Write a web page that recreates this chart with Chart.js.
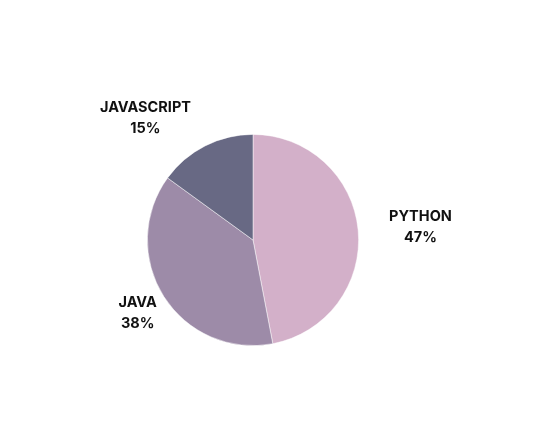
<!DOCTYPE html>
<html>
<head>
<meta charset="utf-8">
<script src="https://cdn.jsdelivr.net/npm/chart.js@4/dist/chart.umd.min.js"></script>
<style>
  html, body { margin: 0; padding: 0; background: #ffffff; }
  #wrap { width: 552px; height: 447px; position: relative; }
</style>
</head>
<body>
<div id="wrap"><canvas id="c" width="552" height="447"></canvas></div>
<script>
const categories = ['PYTHON', 'JAVA', 'JAVASCRIPT'];
const shares = [47, 38, 15];
const sliceColors = ['#D3B0C9', '#9D8BA8', '#686984'];
const labelAligns = ['left', 'center', 'right'];

const outsideLabels = {
  id: 'outsideLabels',
  afterDatasetsDraw(chart, args, opts) {
    const ctx = chart.ctx;
    const meta = chart.getDatasetMeta(0);
    ctx.save();
    ctx.fillStyle = '#111111';
    ctx.font = 'bold 14.5px Inter, "Open Sans", sans-serif';
    ctx.textBaseline = 'middle';
    ctx.textAlign = 'center';
    meta.data.forEach((arc, i) => {
      const p = arc.getProps(['x', 'y', 'startAngle', 'endAngle', 'outerRadius'], true);
      const mid = (p.startAngle + p.endAngle) / 2;
      const d = p.outerRadius + opts.gap;
      const ax = p.x + Math.cos(mid) * d;
      const ay = p.y + Math.sin(mid) * d;
      const lines = [categories[i], shares[i] + '%'];
      const w = Math.max(...lines.map(t => ctx.measureText(t).width));
      let cx = ax;
      if (opts.aligns[i] === 'left') cx = ax + w / 2;
      else if (opts.aligns[i] === 'right') cx = ax - w / 2;
      const lh = opts.lineHeight;
      lines.forEach((t, k) => {
        ctx.fillText(t, cx, ay + (k - (lines.length - 1) / 2) * lh);
      });
    });
    ctx.restore();
  }
};

new Chart(document.getElementById('c'), {
  type: 'pie',
  data: {
    labels: categories,
    datasets: [{
      data: shares,
      backgroundColor: sliceColors,
      borderColor: 'rgba(255,255,255,0.6)',
      borderWidth: 0.8
    }]
  },
  options: {
    responsive: false,
    animation: false,
    layout: { padding: { top: 134, bottom: 101, left: 147, right: 193 } },
    plugins: {
      legend: { display: false },
      tooltip: { enabled: false },
      outsideLabels: { gap: 31, lineHeight: 21, aligns: labelAligns }
    }
  },
  plugins: [outsideLabels]
});
</script>
</body>
</html>
